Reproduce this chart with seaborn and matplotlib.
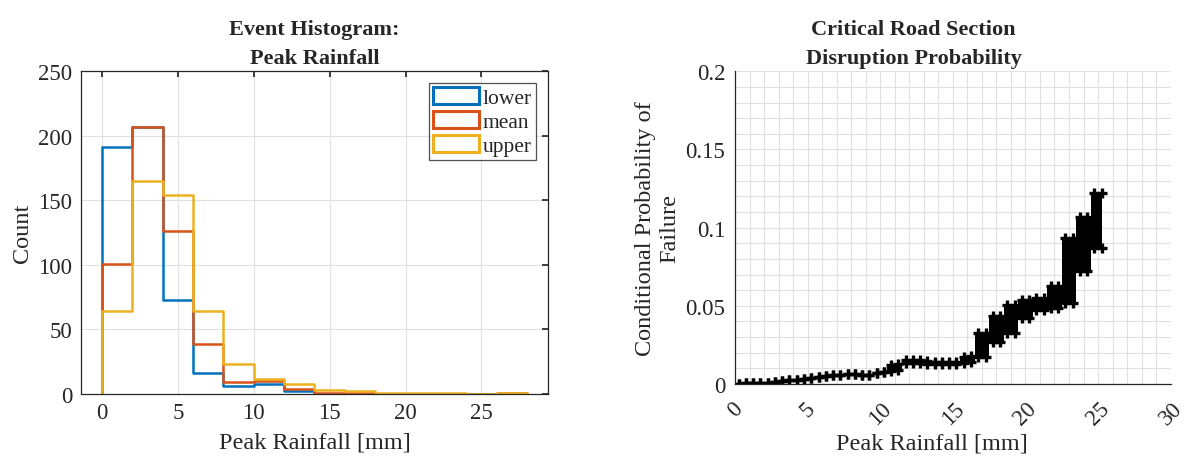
import pandas as pd
import matplotlib.pyplot as plt
import seaborn as sns
import numpy as np
from matplotlib.patches import Patch
from matplotlib.ticker import MultipleLocator

# histogram of peak rainfall (2 mm bins)
bin_edges = [0, 2, 4, 6, 8, 10, 12, 14, 16, 18, 20, 22, 24, 26, 28]
lower_counts = [191, 207, 73, 16, 6, 8, 2, 0, 0, 0, 0, 0, 0, 0]
mean_counts = [101, 207, 126, 39, 9, 10, 4, 1, 1, 0, 0, 0, 0, 1]
upper_counts = [64, 165, 154, 64, 23, 12, 8, 3, 2, 1, 1, 1, 0, 1]
series_names = ["lower", "mean", "upper"]
series_colors = ["#0072BD", "#D95319", "#EDB120"]

# disruption probability band (rainfall column, low / high edge of the cloud)
rain_x = [0.25, 0.75, 1.25, 1.75, 2.25, 2.75, 3.25, 3.75, 4.25, 4.75,
          5.25, 5.75, 6.25, 6.75, 7.25, 7.75, 8.25, 8.75, 9.25, 9.75,
          10.25, 10.75, 11.25, 11.75, 12.25, 12.75, 13.25, 13.75, 14.25, 14.75,
          15.25, 15.75, 16.25, 16.75, 17.25, 17.75, 18.25, 18.75, 19.25, 19.75,
          20.25, 20.75, 21.25, 21.75, 22.25, 22.75, 23.25, 23.75, 24.25, 24.75,
          25.25]
prob_lo = [0.0003, 0.0004, 0.0005, 0.0006, 0.0009, 0.0014, 0.0018, 0.0024, 0.0028, 0.0032,
           0.0036, 0.0043, 0.0050, 0.0055, 0.0059, 0.0061, 0.0062, 0.0057, 0.0057, 0.0072,
           0.0078, 0.0085, 0.0090, 0.0135, 0.0135, 0.0135, 0.0130, 0.0125, 0.0125, 0.0125,
           0.0125, 0.0135, 0.0140, 0.0175, 0.0175, 0.0270, 0.0270, 0.0325, 0.0325, 0.0420,
           0.0420, 0.0475, 0.0475, 0.0485, 0.0485, 0.0515, 0.0515, 0.0720, 0.0720, 0.0870,
           0.0870]
prob_hi = [0.0003, 0.0004, 0.0005, 0.0006, 0.0009, 0.0014, 0.0018, 0.0024, 0.0028, 0.0032,
           0.0036, 0.0043, 0.0050, 0.0055, 0.0059, 0.0061, 0.0062, 0.0057, 0.0057, 0.0072,
           0.0078, 0.0120, 0.0125, 0.0155, 0.0155, 0.0155, 0.0150, 0.0140, 0.0140, 0.0140,
           0.0140, 0.0175, 0.0180, 0.0325, 0.0325, 0.0435, 0.0435, 0.0505, 0.0505, 0.0540,
           0.0540, 0.0550, 0.0550, 0.0625, 0.0625, 0.0935, 0.0935, 0.1070, 0.1070, 0.1220,
           0.1220]

hist_xticks = [0, 5, 10, 15, 20, 25]
hist_yticks = [0, 50, 100, 150, 200, 250]
prob_xticks = [0, 5, 10, 15, 20, 25, 30]
prob_yticks = [0, 0.05, 0.1, 0.15, 0.2]
prob_ytick_labels = ["0", "0.05", "0.1", "0.15", "0.2"]

sns.set_theme(style="white")
plt.rcParams['font.family'] = ['Liberation Serif', 'DejaVu Serif']
AX_COLOR = "#262626"
GRID_COLOR = "#e1e1e1"

fig = plt.figure(figsize=(11.88, 4.6), dpi=100)
ax1 = fig.add_axes([0.0679, 0.1413, 0.3936, 0.7015])
ax2 = fig.add_axes([0.6187, 0.163, 0.3667, 0.6798])

# --- left: stairs histogram ---
centers = [(a + b) / 2 for a, b in zip(bin_edges[:-1], bin_edges[1:])]
for name, counts, col in zip(series_names, [lower_counts, mean_counts, upper_counts], series_colors):
    sns.histplot(ax=ax1, x=centers, weights=counts, bins=bin_edges, element="step",
                 fill=False, color=col, linewidth=1.8)
    # stairs close down to zero at both ends
    ax1.vlines([bin_edges[0], bin_edges[-1]], 0, [counts[0], counts[-1]], color=col, linewidth=1.8)

ax1.set_xlim(-1.4, 29.4)
ax1.set_ylim(0, 250)
ax1.set_xticks(hist_xticks)
ax1.set_yticks(hist_yticks)
ax1.grid(True, color=GRID_COLOR, linewidth=0.8)
ax1.set_axisbelow(True)
ax1.tick_params(direction="in", length=4, color=AX_COLOR, labelsize=16.5, labelcolor=AX_COLOR,
                top=True, right=True, pad=6)
for s in ax1.spines.values():
    s.set_color(AX_COLOR)
    s.set_linewidth(0.9)
ax1.set_xlabel("Peak Rainfall [mm]", fontsize=17.5, color=AX_COLOR, labelpad=6)
ax1.set_ylabel("Count", fontsize=17.5, color=AX_COLOR)
ax1.set_title("Event Histogram:\nPeak Rainfall", fontsize=16, fontweight="bold", pad=6,
              linespacing=1.6)

handles = [Patch(facecolor="none", edgecolor=c, linewidth=2.2) for c in series_colors]
leg = ax1.legend(handles, series_names, loc="upper right", fontsize=15.5, frameon=True,
                 handlelength=2.1, handleheight=0.8, labelspacing=0.15, handletextpad=0.2,
                 borderpad=0.2, borderaxespad=0.55, fancybox=False)
leg.get_frame().set_edgecolor(AX_COLOR)
leg.get_frame().set_linewidth(0.9)

# --- right: conditional probability cloud ---
ax2.fill_between(rain_x, prob_lo, prob_hi, step="mid", color="black", linewidth=0)
sns.scatterplot(ax=ax2, x=rain_x + rain_x, y=prob_lo + prob_hi, marker="+",
                s=45, linewidth=2.4, edgecolor="black", color="black", legend=False)

ax2.set_xlim(0, 30)
ax2.set_ylim(0, 0.2)
ax2.set_xticks(prob_xticks)
ax2.set_yticks(prob_yticks)
ax2.set_yticklabels(prob_ytick_labels)
ax2.xaxis.set_minor_locator(MultipleLocator(1))
ax2.yaxis.set_minor_locator(MultipleLocator(0.01))
ax2.grid(True, which="both", color=GRID_COLOR, linewidth=0.8)
ax2.set_axisbelow(True)
ax2.tick_params(which="both", direction="in", length=4, color=AX_COLOR, labelsize=16.5,
                labelcolor=AX_COLOR, pad=7)
ax2.tick_params(axis="x", labelrotation=45, pad=10)
for lbl in ax2.get_xticklabels():
    lbl.set_ha("center")
for side in ["top", "right"]:
    ax2.spines[side].set_visible(False)
for side in ["left", "bottom"]:
    ax2.spines[side].set_color(AX_COLOR)
    ax2.spines[side].set_linewidth(0.9)
ax2.set_xlabel("Peak Rainfall [mm]", fontsize=17.5, color=AX_COLOR)
ax2.xaxis.set_label_coords(0.452, -0.155)
ax2.set_ylabel("Conditional Probability of\nFailure", fontsize=17.5, color=AX_COLOR)
ax2.set_title("Critical Road Section\nDisruption Probability", fontsize=16,
              fontweight="bold", pad=6, x=0.41, linespacing=1.6)

plt.savefig("out.png", dpi=100)
